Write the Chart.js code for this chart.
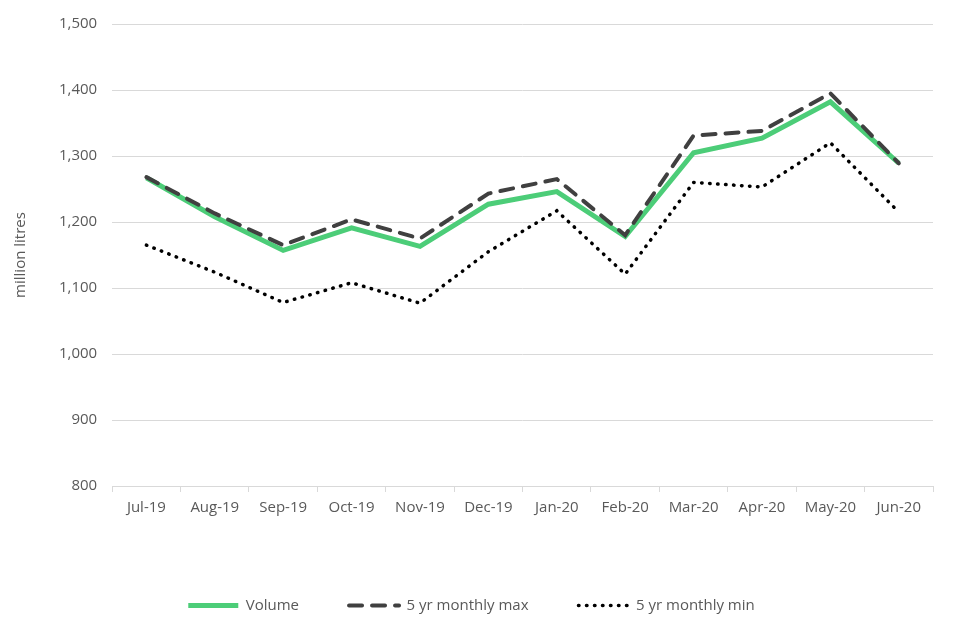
<!DOCTYPE html>
<html>
<head>
<meta charset="utf-8">
<script src="https://cdn.jsdelivr.net/npm/chart.js@4.4.0/dist/chart.umd.min.js"></script>
<style>
  html, body { margin: 0; padding: 0; background: #fff; }
  #wrap { width: 960px; height: 640px; }
</style>
</head>
<body>
<div id="wrap"><canvas id="grafico"></canvas></div>
<script>
// meses
var meses = ["Jul-19","Aug-19","Sep-19","Oct-19","Nov-19","Dec-19","Jan-20","Feb-20","Mar-20","Apr-20","May-20","Jun-20"];
// million litres
var volumen = [1267, 1208, 1157, 1191, 1163, 1227, 1246, 1178, 1305, 1327, 1382, 1289];
var maximo5 = [1268, 1213, 1165, 1204, 1175, 1243, 1265, 1180, 1331, 1338, 1395, 1289];
var minimo5 = [1165, 1124, 1078, 1108, 1077, 1155, 1217, 1121, 1260, 1253, 1320, 1215];
var ejeY = { min: 800, max: 1500, paso: 100 };

var fuente = "'Open Sans', 'Liberation Sans', sans-serif";
var gris = "#595959";

var ctx = document.getElementById('grafico').getContext('2d');
var chart = new Chart(ctx, {
    type: 'line',
    data: {
        labels: meses,
        datasets: [
            {
                label: "Volume",
                data: volumen,
                borderColor: "#4ccd78",
                backgroundColor: "#4ccd78",
                borderWidth: 5,
                pointRadius: 0,
                tension: 0,
                order: 2
            },
            {
                label: "5 yr monthly max",
                data: maximo5,
                borderColor: "#404040",
                backgroundColor: "#404040",
                borderWidth: 4,
                borderDash: [13, 10],
                borderCapStyle: 'round',
                pointRadius: 0,
                tension: 0,
                order: 1
            },
            {
                label: "5 yr monthly min",
                data: minimo5,
                borderColor: "#000000",
                backgroundColor: "#000000",
                borderWidth: 3.5,
                borderDash: [0.5, 7.5],
                borderCapStyle: 'round',
                pointRadius: 0,
                tension: 0,
                order: 0
            }
        ]
    },
    options: {
        responsive: true,
        maintainAspectRatio: false,
        animation: false,
        layout: {
            padding: { left: 10, right: 27, top: 10, bottom: 17 }
        },
        scales: {
            x: {
                offset: true,
                grid: {
                    offset: true,
                    drawOnChartArea: false,
                    color: "#d9d9d9",
                    tickLength: 6
                },
                border: { display: true, color: "#d9d9d9" },
                ticks: {
                    color: gris,
                    font: { family: fuente, size: 15 },
                    padding: 7,
                    maxRotation: 0
                },
                afterFit: function(escala) {
                    escala.height += 24;
                }
            },
            y: {
                min: ejeY.min,
                max: ejeY.max,
                ticks: {
                    stepSize: ejeY.paso,
                    color: gris,
                    font: { family: fuente, size: 15 },
                    padding: 15,
                    callback: function(v) { return v.toLocaleString('en-GB'); }
                },
                grid: { color: "#d9d9d9", drawTicks: false },
                border: { display: false },
                title: {
                    display: true,
                    text: "million litres",
                    color: gris,
                    font: { family: fuente, size: 15 },
                    padding: { top: 2, bottom: 14 }
                }
            }
        },
        plugins: {
            legend: {
                position: 'bottom',
                labels: {
                    usePointStyle: true,
                    pointStyle: 'line',
                    pointStyleWidth: 50,
                    boxWidth: 50,
                    padding: 50,
                    color: gris,
                    font: { family: fuente, size: 15 },
                    generateLabels: function(ch) {
                        return ch.data.datasets.map(function(ds, i) {
                            return {
                                text: ds.label,
                                fillStyle: ds.borderColor,
                                strokeStyle: ds.borderColor,
                                lineWidth: ds.borderWidth,
                                lineDash: ds.borderDash || [],
                                lineCap: ds.borderCapStyle || 'butt',
                                pointStyle: 'line',
                                fontColor: gris,
                                datasetIndex: i
                            };
                        });
                    }
                }
            },
            tooltip: { enabled: false }
        }
    }
});
</script>
</body>
</html>
